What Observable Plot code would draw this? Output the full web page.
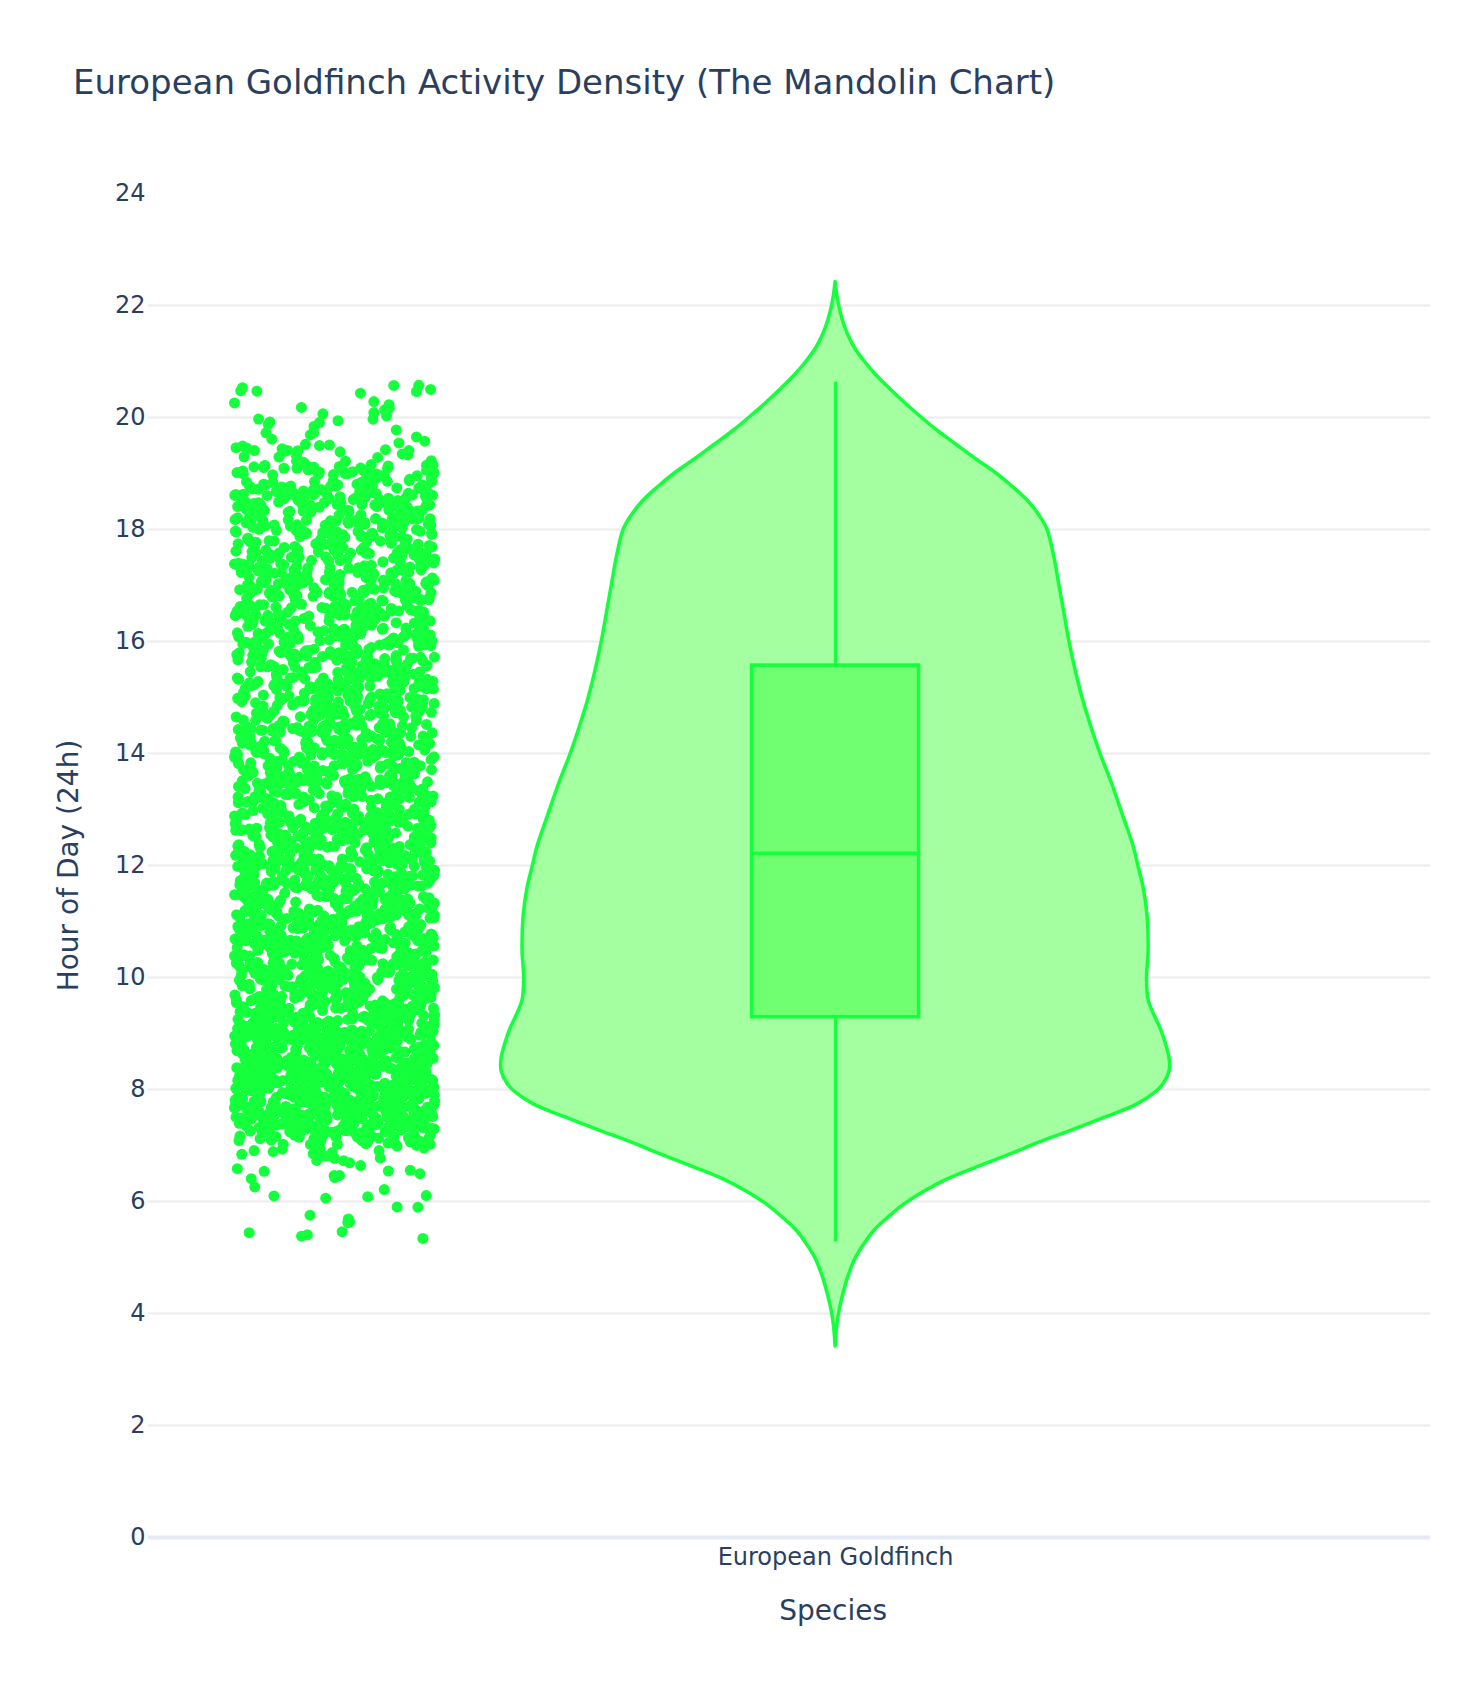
<!DOCTYPE html>
<html>
<head>
<meta charset="utf-8">
<script src="https://cdn.jsdelivr.net/npm/d3@7"></script>
<script src="https://cdn.jsdelivr.net/npm/@observablehq/plot@0.6"></script>
<style>
  body { margin: 0; background: #ffffff; }
  #wrap { position: relative; width: 1477px; height: 1682px; overflow: hidden; background: #ffffff;
          font-family: Verdana, "DejaVu Sans", sans-serif; }
  #title { position: absolute; left: 73px; top: 64.5px; font-size: 34px; line-height: 34px;
           color: #2a3f5f; white-space: nowrap; }
  #chart { position: absolute; left: 0; top: 120px; }
</style>
</head>
<body>
<div id="wrap">
  <div id="title"></div>
  <div id="chart"></div>
</div>
<script>
// ---------------- data ----------------
const chartTitle = "European Goldfinch Activity Density (The Mandolin Chart)";
const yLabel = "Hour of Day (24h)";
const xLabel = "Species";
const species = ["European Goldfinch"];
const yTicks = [0, 2, 4, 6, 8, 10, 12, 14, 16, 18, 20, 22, 24];
const gridTicks = [2, 4, 6, 8, 10, 12, 14, 16, 18, 20, 22];

// observations: counts per quarter-hour bin (bin start hour), read from the strip of points
const binStart = [5.25,5.5,5.75,6,6.25,6.5,6.75,7,7.25,7.5,7.75,8,8.25,8.5,8.75,9,9.25,9.5,9.75,10,
  10.25,10.5,10.75,11,11.25,11.5,11.75,12,12.25,12.5,12.75,13,13.25,13.5,13.75,14,14.25,14.5,14.75,15,
  15.25,15.5,15.75,16,16.25,16.5,16.75,17,17.25,17.5,17.75,18,18.25,18.5,18.75,19,19.25,19.5,19.75,20,
  20.25,20.5];
const binCounts = [5,4,3,5,6,8,15,50,88,94,94,92,90,85,80,74,70,68,67,68,
  67,68,67,66,64,63,62,61,60,58,57,56,55,54,54,53,52,50,50,50,
  50,50,50,49,49,48,48,48,48,49,50,50,49,47,43,33,20,9,8,7,
  6,4];

// violin outline: hour vs half-width relative to the widest point (1 = widest)
const violinHour = [3.41,3.79,4.08,4.38,4.68,4.98,5.27,5.5,5.72,5.94,6.17,6.39,6.61,6.84,7.06,7.28,7.51,7.73,
  7.92,8.1,8.33,8.55,8.85,9.07,9.29,9.59,9.98,10.48,11.08,11.6,11.97,12.34,12.86,13.46,14.0,14.5,15.0,
  15.5,16.0,16.5,17.0,17.5,18.0,18.25,18.5,18.75,19.0,19.25,19.5,19.75,20.0,20.25,20.5,20.75,21.0,
  21.25,21.5,21.75,22.0,22.2,22.42];
const violinHalfWidth = [0,1.7,4.3,8.3,13.3,20,30,40,53.3,68.3,88.3,111.7,141.7,175,205,238.3,271.7,301.7,
  318.3,328.3,334.3,334.3,330,325.7,320,313.3,311.7,313.3,312.3,308.3,303.3,298.3,288.3,276.7,265,255.5,247,
  240,234,229,224,219,212,204,193,178,161,141,122,103,86,70,55,41,29,
  19,12,7,3.5,1.5,0].map(v => v / 334.3);

// box statistics
const whiskerLow = 5.28, q1 = 9.29, median = 12.22, q3 = 15.57, whiskerHigh = 20.63;

// ---------------- layout / style ----------------
const GREEN = "#14ff3c";
const VIOLIN_FILL = "#a4ffa0";
const BOX_FILL = "#70ff70";
const INK = "#2a3f5f";
const pointPos = -1.5, jitter = 0.3, boxHalf = 0.25;

// deterministic jitter (stands in for Plotly's random jitter)
function jit(i, s) { const t = Math.sin(i * 12.9898 + s * 78.233) * 43758.5453; return t - Math.floor(t); }

const points = [];
let idx = 0;
binStart.forEach((lo, b) => {
  const from = Math.max(lo, whiskerLow);
  const to = Math.min(lo + 0.25, whiskerHigh);
  for (let k = 0; k < binCounts[b]; k++) {
    idx++;
    points.push({
      hour: from + (to - from) * jit(idx, 1),
      x: pointPos + jitter * (2 * jit(idx, 2) - 1)
    });
  }
});

const violin = violinHour.map((h, i) => ({hour: h, w: violinHalfWidth[i]}));
const cats = species.map((s, i) => ({name: s, x: i}));

document.getElementById("title").textContent = chartTitle;

const chart = Plot.plot({
  width: 1477,
  height: 1562,
  marginLeft: 148,
  marginRight: 47,
  marginTop: 73,
  marginBottom: 145,
  x: {domain: [-2.057, 1.781], axis: null},
  y: {domain: [0, 24], axis: null},
  style: {fontFamily: 'Verdana, "DejaVu Sans", sans-serif', color: INK, background: "#ffffff", overflow: "visible"},
  marks: [
    Plot.gridY(gridTicks, {stroke: "#ececec", strokeOpacity: 1, strokeWidth: 2}),
    Plot.ruleY([0], {stroke: "#e6e9f6", strokeWidth: 4}),
    Plot.axisY(yTicks, {tickSize: 0, tickPadding: 3, fontSize: 24, label: null, tickFormat: d => String(d)}),
    Plot.areaX(violin, {y: "hour", x1: d => -d.w, x2: d => d.w, fill: VIOLIN_FILL, stroke: GREEN,
      strokeWidth: 3.5, curve: "catmull-rom"}),
    Plot.rect([{y1: q1, y2: q3}], {x1: -boxHalf, x2: boxHalf, y1: "y1", y2: "y2", fill: BOX_FILL, stroke: GREEN, strokeWidth: 3.5}),
    Plot.ruleY([median], {x1: -boxHalf, x2: boxHalf, stroke: GREEN, strokeWidth: 3.5}),
    Plot.ruleX([0, 0], {y1: [whiskerLow, q3], y2: [q1, whiskerHigh], stroke: GREEN, strokeWidth: 3.5}),
    Plot.dot(points, {x: "x", y: "hour", r: 5.5, fill: GREEN, stroke: null}),
    Plot.text(cats, {x: "x", text: "name", frameAnchor: "bottom", dy: 27, lineAnchor: "bottom", fontSize: 24}),
    Plot.text(cats, {x: "x", text: () => xLabel, frameAnchor: "bottom", dy: 82, dx: -2.5, lineAnchor: "bottom", fontSize: 28}),
    Plot.text([yLabel], {frameAnchor: "left", dx: -79, rotate: -90, textAnchor: "middle", lineAnchor: "middle", fontSize: 28})
  ]
});
document.getElementById("chart").appendChild(chart);
</script>
</body>
</html>
